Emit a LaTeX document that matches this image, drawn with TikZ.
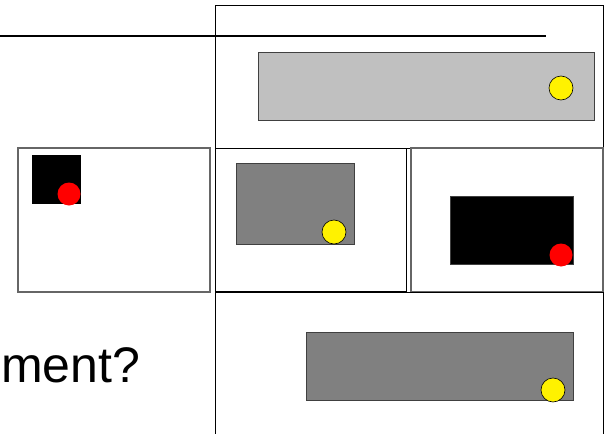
\documentclass[tikz,border=0pt]{standalone}
\usepackage{fontspec}
\setmainfont{Liberation Sans}
\usepackage{tikz}
\usetikzlibrary{positioning,calc}
\definecolor{lightgrey}{HTML}{C0C0C0}
\definecolor{midgrey}{HTML}{808080}
\tikzset {
    panel/.style={draw=black, line width=1pt},
    softpanel/.style={draw=black!60, line width=1.2pt},
    slab/.style={draw=black!75, line width=0.8pt},
    sun/.style={circle, draw=black, line width=0.6pt, fill=yellow,
        minimum size=24pt, inner sep=0pt},
    ball/.style={circle, fill=red, minimum size=23pt, inner sep=0pt},
    caption/.style={font=\fontsize{50}{60}\selectfont, inner sep=0pt,
        anchor=base west}
}

\begin{document}
\begin{tikzpicture}[x=1pt, y=-1pt]

        \useasboundingbox (0,0) rectangle (611,434);

        % frames
        \draw[panel] (215,434) -- (215,5) -- (603,5) -- (603,148) -- (215,148);
        \draw[line width=2pt] (0,36) -- (546,36);
        \draw[softpanel] (18,148) rectangle (210,292);
        \draw[panel] (215,148) rectangle (406,291);
        \draw[softpanel] (411,148) rectangle (603,292);
        \draw[panel] (215,292) -- (603,292) -- (603,434);

        % top panel
        \draw[slab, fill=lightgrey] (258,52) rectangle (594,120);
        \node[sun] (s1) at (561,88) {};

        % left panel
        \fill[black] (32,155) rectangle (81,204);
        \node[ball] (b1) at (69,194) {};

        % middle panel
        \draw[slab, fill=midgrey] (236,163) rectangle (354,244);
        \node[sun] (s2) at (334,232) {};

        % right panel
        \draw[slab, fill=black] (450,196) rectangle (573,264);
        \node[ball] (b2) at (561,255) {};

        % bottom panel
        \draw[slab, fill=midgrey] (306,332) rectangle (573,400);
        \node[sun] (s3) at (553,390) {};

        \node[caption] (q) at (1,382) {ment?};

    \end{tikzpicture}
\end{document}
